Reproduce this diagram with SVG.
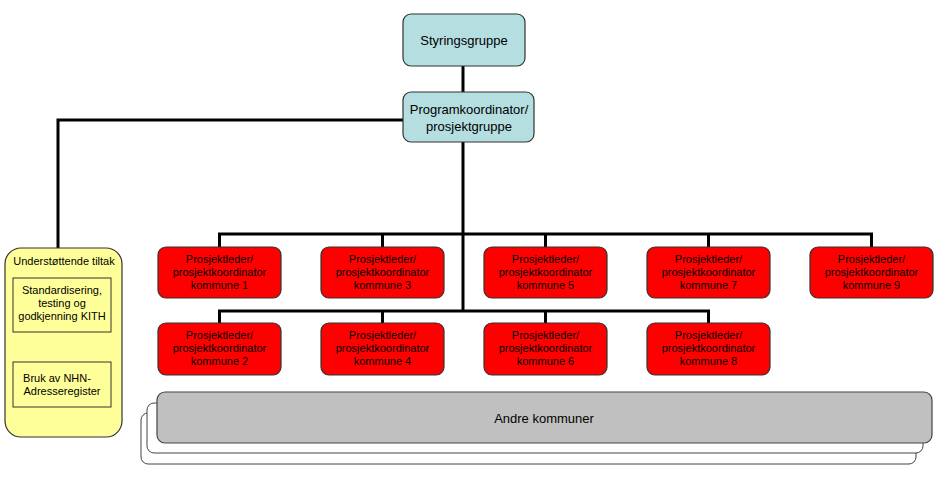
<svg xmlns="http://www.w3.org/2000/svg" width="939" height="487" viewBox="0 0 939 487">
<style>
text{font-family:"Liberation Sans",Arial,sans-serif;fill:#000;text-anchor:middle}
.blue{fill:#B4DEE0;stroke:#333;stroke-width:1.2}
.red{fill:#FF0000;stroke:#333;stroke-width:1.2}
.yel{fill:#FFFF99;stroke:#333;stroke-width:1.2}
.inner{fill:#FFFF99;stroke:#333;stroke-width:1}
.gray{fill:#C0C0C0;stroke:#444;stroke-width:1.2}
.back{fill:#fff;stroke:#444;stroke-width:1}
.c{fill:none;stroke:#000;stroke-width:3}
.t11{font-size:11px}
.t13{font-size:13px}
</style>
<rect width="939" height="487" fill="#fff"/>
<g id="connectors">
<path class="c" d="M463 66V92"/>
<path class="c" d="M403 120H58V248"/>
<path class="c" d="M463 142V311"/>
<path class="c" d="M219.5 247V234H871.5V247"/>
<path class="c" d="M382.5 234V247M545.5 234V247M708.5 234V247"/>
<path class="c" d="M219.5 323V311H708.5V323"/>
<path class="c" d="M382.5 311V323M545.5 311V323"/>
</g>
<g id="styringsgruppe">
<rect class="blue" x="403" y="14" width="122" height="52" rx="8"/>
<text class="t13" x="464" y="45">Styringsgruppe</text>
</g>
<g id="programkoordinator">
<rect class="blue" x="403" y="92" width="131" height="50" rx="8"/>
<text class="t13" x="469" y="114">Programkoordinator/</text>
<text class="t13" x="469" y="131">prosjektgruppe</text>
</g>
<g id="understottende">
<rect class="yel" x="5" y="248" width="117" height="189" rx="16"/>
<text class="t11" x="64" y="265">Understøttende tiltak</text>
<rect class="inner" x="13" y="278" width="98" height="54"/>
<text class="t11" x="62" y="294">Standardisering,</text>
<text class="t11" x="62" y="307">testing og</text>
<text class="t11" x="62" y="320">godkjenning KITH</text>
<rect class="inner" x="13" y="362" width="98" height="45"/>
<text class="t11" x="57" y="382">Bruk av NHN-</text>
<text class="t11" x="62" y="395">Adresseregister</text>
</g>
<g id="k1"><rect class="red" x="158" y="247" width="123" height="51" rx="8"/><text class="t11" x="219.5" y="263">Prosjektleder/</text><text class="t11" x="219.5" y="276">prosjektkoordinator</text><text class="t11" x="219.5" y="289">kommune 1</text></g>
<g id="k3"><rect class="red" x="321" y="247" width="123" height="51" rx="8"/><text class="t11" x="382.5" y="263">Prosjektleder/</text><text class="t11" x="382.5" y="276">prosjektkoordinator</text><text class="t11" x="382.5" y="289">kommune 3</text></g>
<g id="k5"><rect class="red" x="484" y="247" width="123" height="51" rx="8"/><text class="t11" x="545.5" y="263">Prosjektleder/</text><text class="t11" x="545.5" y="276">prosjektkoordinator</text><text class="t11" x="545.5" y="289">kommune 5</text></g>
<g id="k7"><rect class="red" x="647" y="247" width="123" height="51" rx="8"/><text class="t11" x="708.5" y="263">Prosjektleder/</text><text class="t11" x="708.5" y="276">prosjektkoordinator</text><text class="t11" x="708.5" y="289">kommune 7</text></g>
<g id="k9"><rect class="red" x="810" y="247" width="123" height="51" rx="8"/><text class="t11" x="871.5" y="263">Prosjektleder/</text><text class="t11" x="871.5" y="276">prosjektkoordinator</text><text class="t11" x="871.5" y="289">kommune 9</text></g>
<g id="k2"><rect class="red" x="158" y="323" width="123" height="52" rx="8"/><text class="t11" x="219.5" y="339">Prosjektleder/</text><text class="t11" x="219.5" y="352">prosjektkoordinator</text><text class="t11" x="219.5" y="365">kommune 2</text></g>
<g id="k4"><rect class="red" x="321" y="323" width="123" height="52" rx="8"/><text class="t11" x="382.5" y="339">Prosjektleder/</text><text class="t11" x="382.5" y="352">prosjektkoordinator</text><text class="t11" x="382.5" y="365">kommune 4</text></g>
<g id="k6"><rect class="red" x="484" y="323" width="123" height="52" rx="8"/><text class="t11" x="545.5" y="339">Prosjektleder/</text><text class="t11" x="545.5" y="352">prosjektkoordinator</text><text class="t11" x="545.5" y="365">kommune 6</text></g>
<g id="k8"><rect class="red" x="647" y="323" width="123" height="52" rx="8"/><text class="t11" x="708.5" y="339">Prosjektleder/</text><text class="t11" x="708.5" y="352">prosjektkoordinator</text><text class="t11" x="708.5" y="365">kommune 8</text></g>
<g id="andre">
<rect class="back" x="141" y="413" width="775" height="51" rx="7"/>
<rect class="back" x="147" y="403" width="776" height="50" rx="7"/>
<rect class="gray" x="157" y="392" width="775" height="51" rx="8"/>
<text class="t13" x="544" y="423">Andre kommuner</text>
</g>
</svg>
